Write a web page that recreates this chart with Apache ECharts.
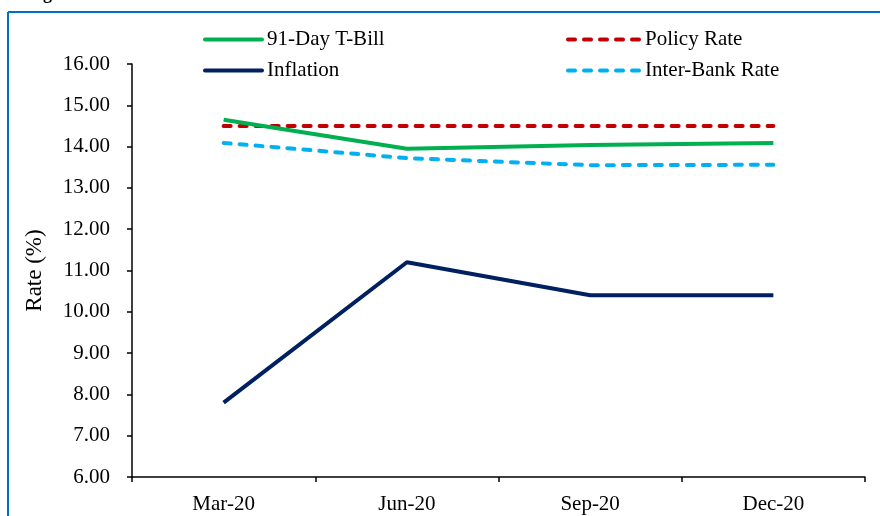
<!DOCTYPE html>
<html>
<head>
<meta charset="utf-8">
<script src="https://cdn.jsdelivr.net/npm/echarts@6/dist/echarts.min.js"></script>
<style>html,body{margin:0;padding:0;background:#fff}#c{width:880px;height:516px}</style>
</head>
<body>
<div id="c"></div>
<script>
var categories = ['Mar-20', 'Jun-20', 'Sep-20', 'Dec-20'];
var tbill = [14.65, 13.95, 14.04, 14.09];
var policy = [14.50, 14.50, 14.50, 14.50];
var inflation = [7.80, 11.20, 10.40, 10.40];
var interbank = [14.09, 13.72, 13.55, 13.56];
var yTicks = [6, 7, 8, 9, 10, 11, 12, 13, 14, 15, 16];

var FONT = '"Liberation Serif", "Times New Roman", serif';
var chart = echarts.init(document.getElementById('c'), null, {renderer: 'canvas'});

function legendAt(name, left, top, w) {
  return {
    data: [name], left: left, top: top, orient: 'horizontal',
    itemWidth: w, itemHeight: 14, itemGap: 0, padding: 0,
    selectedMode: false,
    itemStyle: {opacity: 0, borderWidth: 0},
    lineStyle: {width: 4, cap: 'round'},
    textStyle: {fontFamily: FONT, fontSize: 21, color: '#000', padding: [0, 0, 2, 0]}
  };
}

chart.setOption({
  animation: false,
  backgroundColor: '#fff',
  graphic: [
    {type: 'line', shape: {x1: 8, y1: 12, x2: 880, y2: 12}, style: {stroke: '#0070C0', lineWidth: 2}},
    {type: 'line', shape: {x1: 8, y1: 12, x2: 8, y2: 516}, style: {stroke: '#0070C0', lineWidth: 2}},
    {type: 'text', left: 27, top: -15, style: {text: 'Figure', font: 'bold 18px ' + FONT, fill: '#000'}}
  ],
  legend: [
    legendAt('91-Day T-Bill', 203, 29, 57),
    legendAt('Policy Rate', 566, 29, 72),
    legendAt('Inflation', 203, 60, 57),
    legendAt('Inter-Bank Rate', 566, 60, 72)
  ],
  grid: {left: 132, right: 15, top: 64, bottom: 39, containLabel: false},
  xAxis: {
    type: 'category', data: categories, boundaryGap: true,
    axisLine: {lineStyle: {color: '#000', width: 1.5}},
    axisTick: {show: true, length: 5, alignWithLabel: false, lineStyle: {color: '#000', width: 1.5}},
    axisLabel: {fontFamily: FONT, fontSize: 21, color: '#000', margin: 17}
  },
  yAxis: {
    type: 'value', min: yTicks[0], max: yTicks[yTicks.length - 1], interval: 1,
    name: 'Rate (%)', nameLocation: 'middle', nameGap: 86, nameRotate: 90,
    nameTextStyle: {fontFamily: FONT, fontSize: 23, color: '#000'},
    axisLine: {show: true, lineStyle: {color: '#000', width: 1.5}},
    axisTick: {show: true, length: 5, lineStyle: {color: '#000', width: 1.5}},
    splitLine: {show: false},
    axisLabel: {fontFamily: FONT, fontSize: 21, color: '#000', margin: 22,
      formatter: function (v) { return v.toFixed(2); }}
  },
  series: [
    {name: '91-Day T-Bill', type: 'line', data: tbill, symbol: 'none', z: 4,
      lineStyle: {color: '#00B050', width: 4}, itemStyle: {color: '#00B050'}},
    {name: 'Policy Rate', type: 'line', data: policy, symbol: 'none', z: 3,
      lineStyle: {color: '#C00000', width: 4, type: [7, 9], cap: 'round'}, itemStyle: {color: '#C00000'}},
    {name: 'Inflation', type: 'line', data: inflation, symbol: 'none', z: 4,
      lineStyle: {color: '#002060', width: 4}, itemStyle: {color: '#002060'}},
    {name: 'Inter-Bank Rate', type: 'line', data: interbank, symbol: 'none', z: 3,
      lineStyle: {color: '#00B0F0', width: 4, type: [7, 9], cap: 'round'}, itemStyle: {color: '#00B0F0'}}
  ]
});
</script>
</body>
</html>
